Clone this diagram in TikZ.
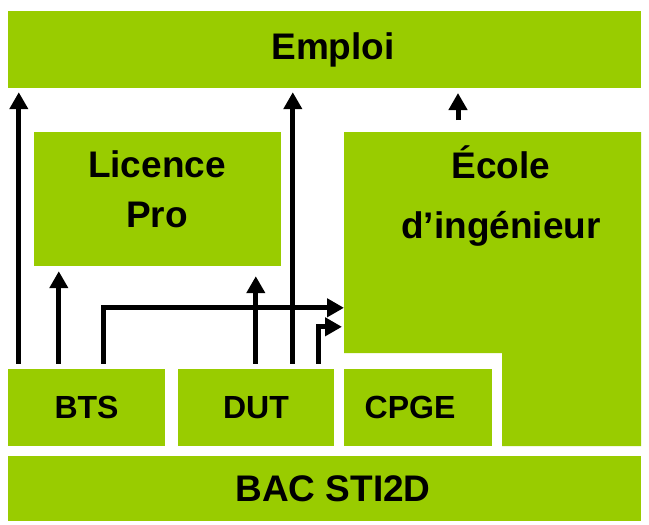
\documentclass[tikz,border=0pt]{standalone}
\usepackage{fontspec}
\setmainfont{Liberation Sans}
\usetikzlibrary{arrows.meta}
\definecolor{vert}{HTML}{99CC00}

\begin{document}
\begin{tikzpicture}[x=1pt, y=-1pt,
	boite/.style={fill=vert, inner sep=0pt},
	texte/.style={font=\bfseries\fontsize{37}{50}\selectfont, align=center, inner sep=0pt},
	petit/.style={font=\bfseries\fontsize{32}{38}\selectfont, inner sep=0pt},
	fleche/.style={line width=5pt, -{Triangle[width=18pt,length=17pt]}}]
	\useasboundingbox (0,0) rectangle (649,525);

	% les boites
	\node[boite, minimum width=633pt, minimum height=77pt] (emploi) at (324.5,49.5) {};
	\node[boite, minimum width=247pt, minimum height=134pt] (licence) at (157.5,199) {};
	\node[boite, minimum width=157pt, minimum height=77pt] (bts) at (86.5,407.5) {};
	\node[boite, minimum width=156pt, minimum height=77pt] (dut) at (256,407.5) {};
	\node[boite, minimum width=148pt, minimum height=77pt] (cpge) at (418,407.5) {};
	\node[boite, minimum width=633pt, minimum height=65pt] (bac) at (324.5,488.5) {};

	% ecole : en L autour de la CPGE
	\coordinate (ecole) at (344,132);
	\fill[vert] (ecole) -- (641,132) -- (641,446) -- (502,446) -- (502,353) -- (344,353) -- cycle;

	% les textes
	\node[texte] (emploiT) at (333,49.5) {Emploi};
	\node[texte] (licenceT) at (157,189) {Licence\\Pro};
	\node[texte, font=\bfseries\fontsize{37}{60}\selectfont] (ecoleT) at (501,196) {École\\d’ingénieur};
	\node[petit] (btsT) at (bts) {BTS};
	\node[petit] (dutT) at (dut) {DUT};
	\node[petit] (cpgeT) at (410,407.5) {CPGE};
	\node[texte] (bacT) at (333,488.5) {BAC STI2D};

	% les fleches
	\draw[fleche, shorten <=5pt, shorten >=4pt] ([xshift=11pt]bts.north west) -- ([xshift=11pt]bts.north west |- emploi.south);
	\draw[fleche, shorten <=5pt, shorten >=5pt] ([xshift=51pt]bts.north west) -- ([xshift=51pt]bts.north west |- licence.south);
	\draw[fleche, shorten <=5pt] ([xshift=96pt]bts.north west) |- ([yshift=61pt]ecole |- cpge.north);
	\draw[fleche, shorten <=5pt, shorten >=10pt] ([xshift=78pt]dut.north west) -- ([xshift=78pt]dut.north west |- licence.south);
	\draw[fleche, shorten <=5pt, shorten >=4pt] ([xshift=115pt]dut.north west) -- ([xshift=115pt]dut.north west |- emploi.south);
	\draw[fleche, shorten <=5pt, shorten >=2pt] ([xshift=141pt]dut.north west) |- ([yshift=42pt]ecole |- cpge.north);
	\draw[fleche, shorten <=12pt, shorten >=5pt] (458,132) -- (458,88);
\end{tikzpicture}
\end{document}
